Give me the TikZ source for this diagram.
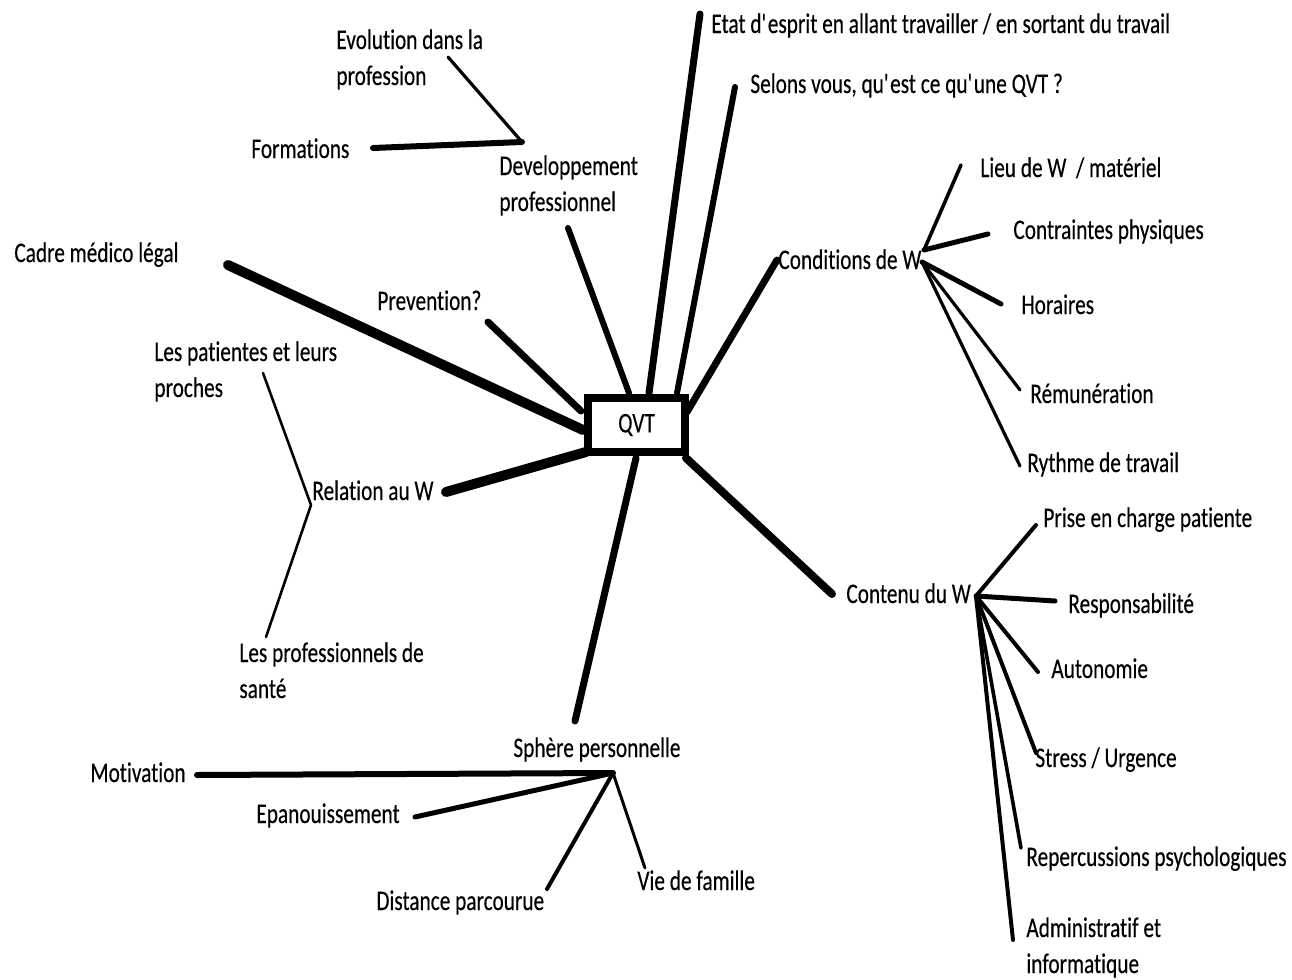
\documentclass[tikz,border=0pt]{standalone}
\usepackage{fontspec}
\setmainfont{Carlito}[FakeStretch=0.75, FakeBold=0.3, Ligatures=NoCommon]
\begin{document}
\begin{tikzpicture}[x=0.5pt,y=-0.5pt,
  lbl/.style={anchor=base west, inner sep=0pt, font=\fontsize{14.2}{18}\selectfont, align=left, text=black},
  conn/.style={line cap=round, line join=round, draw=black}]
\useasboundingbox (0,0) rectangle (1292,980);
% labels (two-line labels are anchored at the baseline of their last line)
\node[lbl] (evol) at (336,85) {Evolution dans la\\profession};
\node[lbl] (form) at (251,158) {Formations};
\node[lbl] (dev) at (499,211) {Developpement\\professionnel};
\node[lbl] (cadre) at (14,262) {Cadre médico légal};
\node[lbl] (prev) at (377,310) {Prevention?};
\node[lbl] (etat) at (711,33) {Etat d\textquotesingle esprit en allant travailler / en sortant du travail};
\node[lbl] (selon) at (750,93) {Selons vous, qu\textquotesingle est ce qu\textquotesingle une QVT ?};
\node[lbl] (lieu) at (980,177) {Lieu de W~ / matériel};
\node[lbl] (contr) at (1013,239) {Contraintes physiques};
\node[lbl] (cond) at (778,269) {Conditions de W};
\node[lbl] (hor) at (1021,314) {Horaires};
\node[lbl] (remu) at (1030,403) {Rémunération};
\node[lbl] (ryth) at (1027,472) {Rythme de travail};
\node[lbl] (prise) at (1043,527) {Prise en charge patiente};
\node[lbl] (cont) at (846,603) {Contenu du W};
\node[lbl] (resp) at (1068,613) {Responsabilité};
\node[lbl] (auto) at (1051,678) {Autonomie};
\node[lbl] (stress) at (1035,767) {Stress / Urgence};
\node[lbl] (reper) at (1026,866) {Repercussions psychologiques};
\node[lbl] (admin) at (1026,973) {Administratif et\\informatique};
\node[lbl] (pat) at (154,397) {Les patientes et leurs\\proches};
\node[lbl] (rel) at (312,500) {Relation au W};
\node[lbl] (pro) at (239,698) {Les professionnels de\\santé};
\node[lbl] (sph) at (513,757) {Sphère personnelle};
\node[lbl] (motiv) at (90,782) {Motivation};
\node[lbl] (epa) at (256,823) {Epanouissement};
\node[lbl] (dist) at (376,910) {Distance parcourue};
\node[lbl] (vie) at (637,890) {Vie de famille};
% centre
\node[draw, line width=4pt, minimum width=48.5pt, minimum height=27pt, inner sep=0pt,
      font=\fontsize{14.2}{18}\selectfont] (qvt) at (636.5,425) {QVT};
% connector end points
\coordinate (qCadre) at (583,430);
\coordinate (eCadre) at (228,265);
\coordinate (qPrev) at (581,411);
\coordinate (ePrev) at (488,322);
\coordinate (qDev) at (629,393);
\coordinate (eDev) at (568,228);
\coordinate (qEtat) at (649,393);
\coordinate (eEtat) at (700,14);
\coordinate (qSelon) at (677,393);
\coordinate (eSelon) at (735,87);
\coordinate (qCond) at (687,412);
\coordinate (eCond) at (777,260);
\coordinate (qCont) at (686,458);
\coordinate (eCont) at (832,594);
\coordinate (qRel) at (586,452);
\coordinate (eRel) at (446,492);
\coordinate (qSph) at (636,458);
\coordinate (eSph) at (575,721);
% sub hubs
\coordinate (hDev) at (522,142);
\coordinate (eEvol) at (448,57);
\coordinate (eForm) at (373,148);
\coordinate (hCondA) at (924,250);
\coordinate (hCondB) at (922,262);
\coordinate (eLieu) at (961,165);
\coordinate (eContr) at (988,234);
\coordinate (eHor) at (1001,304);
\coordinate (eRemu) at (1020,390);
\coordinate (eRyth) at (1020,466);
\coordinate (hCont) at (976,596);
\coordinate (ePrise) at (1036,525);
\coordinate (eResp) at (1055,601);
\coordinate (eAuto) at (1038,672);
\coordinate (eStress) at (1036,753);
\coordinate (eReper) at (1021,848);
\coordinate (eAdmin) at (1013,940);
\coordinate (hRel) at (311,505);
\coordinate (ePat) at (263,373);
\coordinate (ePro) at (266,637);
\coordinate (hSph) at (613,773);
\coordinate (eMotiv) at (197,775);
\coordinate (eEpa) at (415,817);
\coordinate (eDist) at (547,889);
\coordinate (eVie) at (645,868);
% main branches
\draw[conn, line width=5pt] (eCadre) -- (qCadre);
\draw[conn, line width=3.5pt] (ePrev) -- (qPrev);
\draw[conn, line width=3pt] (eDev) -- (qDev);
\draw[conn, line width=3.5pt] (eEtat) -- (qEtat);
\draw[conn, line width=3pt] (eSelon) -- (qSelon);
\draw[conn, line width=3.5pt] (eCond) -- (qCond);
\draw[conn, line width=4pt] (qCont) -- (eCont);
\draw[conn, line width=5pt] (eRel) -- (qRel);
\draw[conn, line width=3.5pt] (qSph) -- (eSph);
% sub branches
\draw[conn, line width=1.6pt] (eEvol) -- (hDev);
\draw[conn, line width=3pt] (eForm) -- (hDev);
\draw[conn, line width=1.8pt] (hCondA) -- (eLieu);
\draw[conn, line width=2.5pt] (hCondA) -- (eContr);
\draw[conn, line width=2.5pt] (hCondB) -- (eHor);
\draw[conn, line width=1.6pt] (hCondB) -- (eRemu);
\draw[conn, line width=1.6pt] (hCondB) -- (eRyth);
\draw[conn, line width=2pt] (hCont) -- (ePrise);
\draw[conn, line width=2.5pt] (hCont) -- (eResp);
\draw[conn, line width=2pt] (hCont) -- (eAuto);
\draw[conn, line width=2pt] (hCont) -- (eStress);
\draw[conn, line width=1.8pt] (hCont) -- (eReper);
\draw[conn, line width=2pt] (hCont) -- (eAdmin);
\draw[conn, line width=1.3pt] (ePat) -- (hRel) -- (ePro);
\draw[conn, line width=3pt] (eMotiv) -- (hSph);
\draw[conn, line width=2.5pt] (eEpa) -- (hSph);
\draw[conn, line width=2pt] (eDist) -- (hSph);
\draw[conn, line width=1.5pt] (hSph) -- (eVie);
\end{tikzpicture}
\end{document}
